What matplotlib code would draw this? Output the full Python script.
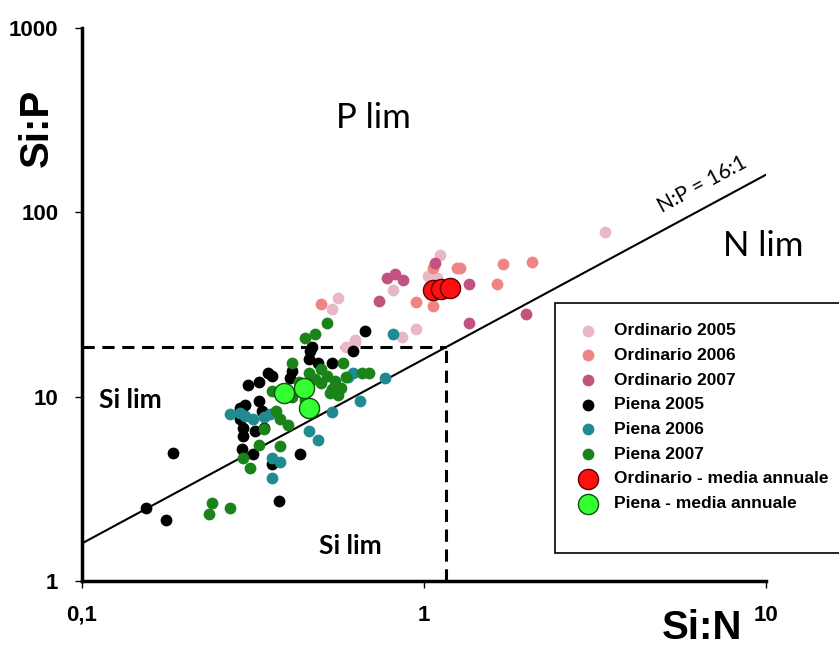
import matplotlib.pyplot as plt
from matplotlib.patches import Rectangle
from matplotlib.ticker import FixedLocator, FixedFormatter, NullLocator

# Si:N (x) and Si:P (y) ratios
ord05_x = [3.38, 0.56, 0.54, 1.11, 1.09, 1.03, 0.81, 0.95, 0.63, 0.86, 0.63, 0.59]
ord05_y = [78, 34.5, 30, 58.5, 44, 45, 38, 23.4, 20.2, 21, 19.7, 18.6]
ord06_x = [0.50, 0.95, 1.06, 1.25, 1.06, 1.70, 2.07, 1.64, 1.27]
ord06_y = [32, 32.5, 50, 50, 31, 52.5, 54, 41, 50]
ord07_x = [1.08, 0.78, 0.82, 0.87, 0.74, 1.35, 1.35, 1.99]
ord07_y = [53, 44, 46.5, 42.7, 33, 41, 25, 28]
pie05_x = [0.185, 0.154, 0.176, 0.377, 0.434, 0.67, 0.62, 0.306, 0.33, 0.35,
           0.36, 0.33, 0.29, 0.296, 0.296, 0.294, 0.316, 0.36, 0.336, 0.34,
           0.406, 0.464, 0.46, 0.49, 0.54, 0.47, 0.41, 0.30, 0.29, 0.32]
pie05_y = [4.97, 2.5, 2.15, 2.7, 4.9, 22.6, 17.8, 11.5, 12, 13.5,
           13.0, 9.5, 8.7, 6.8, 6.1, 5.2, 4.9, 4.3, 8.4, 6.8,
           12.7, 17.8, 16.1, 15.3, 15.2, 18.5, 13.8, 9.0, 7.6, 6.5]
pie06_x = [0.81, 0.62, 0.77, 0.65, 0.54, 0.46, 0.49, 0.36, 0.38, 0.36,
           0.27, 0.29, 0.30, 0.316, 0.355, 0.60, 0.34]
pie06_y = [22, 13.5, 12.7, 9.5, 8.3, 6.5, 5.8, 3.6, 4.4, 4.65,
           8.1, 8.2, 7.9, 7.6, 8.1, 12.8, 7.8]
pie07_x = [0.52, 0.48, 0.45, 0.41, 0.58, 0.66, 0.69, 0.52, 0.55, 0.57,
           0.53, 0.50, 0.48, 0.37, 0.38, 0.40, 0.34, 0.33, 0.38, 0.296,
           0.31, 0.24, 0.235, 0.27, 0.36, 0.41, 0.45, 0.56, 0.50, 0.46,
           0.43, 0.54, 0.59]
pie07_y = [25, 22, 20.7, 15.3, 15.3, 13.5, 13.5, 13.0, 12.2, 11.2,
           10.5, 11.8, 12.5, 8.4, 7.6, 7.0, 6.7, 5.5, 5.4, 4.66,
           4.1, 2.66, 2.3, 2.5, 10.8, 9.9, 9.6, 10.2, 14.2, 13.4,
           12.0, 11.0, 12.8]
ord_mean_x = [1.06, 1.12, 1.19]
ord_mean_y = [37.7, 38.6, 39.0]
pie_mean_x = [0.39, 0.445, 0.46]
pie_mean_y = [10.5, 11.1, 8.7]

plt.rcParams['font.family'] = ['Liberation Sans', 'DejaVu Sans']

fig = plt.figure(figsize=(8.39, 6.48), dpi=100)
ax = fig.add_axes([82 / 839, 1 - 581 / 648, 684 / 839, 553 / 648])
ax.set_xscale('log')
ax.set_yscale('log')
ax.set_xlim(0.1, 10)
ax.set_ylim(1, 1000)

# N:P = 16:1 line and the limit boxes
ax.plot([0.1, 10], [1.6, 160], color='black', lw=1.5, zorder=2)
ax.plot([0.1, 1.16], [18.6, 18.6], color='black', lw=2.2, ls=(0, (4, 2.5)), zorder=2)
ax.plot([1.16, 1.16], [1, 18.6], color='black', lw=2.2, ls=(0, (4, 2.5)), zorder=2)

s = 72
ax.scatter(ord05_x, ord05_y, s=s, color='#e8b8c9', lw=0, label='Ordinario 2005', zorder=3)
ax.scatter(ord06_x, ord06_y, s=s, color='#f08484', lw=0, label='Ordinario 2006', zorder=3)
ax.scatter(ord07_x, ord07_y, s=s, color='#c25380', lw=0, label='Ordinario 2007', zorder=3)
ax.scatter(pie05_x, pie05_y, s=s, color='black', lw=0, label='Piena 2005', zorder=3)
ax.scatter(pie06_x, pie06_y, s=s, color='#1f8a8f', lw=0, label='Piena 2006', zorder=3)
ax.scatter(pie07_x, pie07_y, s=s, color='#1a841a', lw=0, label='Piena 2007', zorder=3)
ax.scatter(ord_mean_x, ord_mean_y, s=210, color='#ff1010', edgecolor='#600000', lw=1,
           label='Ordinario - media annuale', zorder=4)
ax.scatter(pie_mean_x, pie_mean_y, s=210, color='#33ff33', edgecolor='#105010', lw=1,
           label='Piena - media annuale', zorder=4)

for side in ['top', 'right']:
    ax.spines[side].set_visible(False)
for side in ['left', 'bottom']:
    ax.spines[side].set_linewidth(2.5)

ax.xaxis.set_major_locator(FixedLocator([0.1, 1, 10]))
ax.xaxis.set_major_formatter(FixedFormatter(['0,1', '1', '10']))
ax.yaxis.set_major_locator(FixedLocator([1, 10, 100, 1000]))
ax.yaxis.set_major_formatter(FixedFormatter(['1', '10', '100', '1000']))
ax.xaxis.set_minor_locator(NullLocator())
ax.yaxis.set_minor_locator(NullLocator())
ax.tick_params(length=5, width=1, pad=12)
for lab in ax.get_xticklabels() + ax.get_yticklabels():
    lab.set_fontweight('bold')
    lab.set_fontsize(16)

fig.text(742 / 839, 1 - 628 / 648, 'Si:N', ha='right', va='center', fontsize=29,
         fontweight='bold')
fig.text(37 / 839, 1 - 128 / 648, 'Si:P', ha='center', va='center', fontsize=29, rotation=90,
         fontweight='bold')

lab_font = ['Lato', 'DejaVu Sans']
fig.text(373 / 839, 1 - 118 / 648, 'P lim', ha='center', va='center', fontsize=25, family=lab_font)
fig.text(763 / 839, 1 - 246 / 648, 'N lim', ha='center', va='center', fontsize=25, family=lab_font)
fig.text(130 / 839, 1 - 400 / 648, 'Si lim', ha='center', va='center', fontsize=19,
         fontweight='bold', family=lab_font)
fig.text(350 / 839, 1 - 546 / 648, 'Si lim', ha='center', va='center', fontsize=19,
         fontweight='bold', family=lab_font)
fig.text(702 / 839, 1 - 184 / 648, 'N:P = 16:1', ha='center', va='center', fontsize=15,
         rotation=28.3, family=lab_font)

# legend box: taller at the bottom than the entries need, as in the original
fig.patches.append(Rectangle((555 / 839, 1 - 553 / 648), 300 / 839, 250 / 648,
                             transform=fig.transFigure, facecolor='white',
                             edgecolor='black', lw=1.2, zorder=5))
leg = fig.legend(loc='upper left', bbox_to_anchor=(571 / 839, 1 - 323 / 648), frameon=False,
                 prop={'weight': 'bold', 'size': 12.5}, handletextpad=0.5, labelspacing=0.55,
                 borderpad=0, borderaxespad=0, markerscale=1.0)
leg.set_zorder(6)

fig.savefig('out.png', dpi=100)
